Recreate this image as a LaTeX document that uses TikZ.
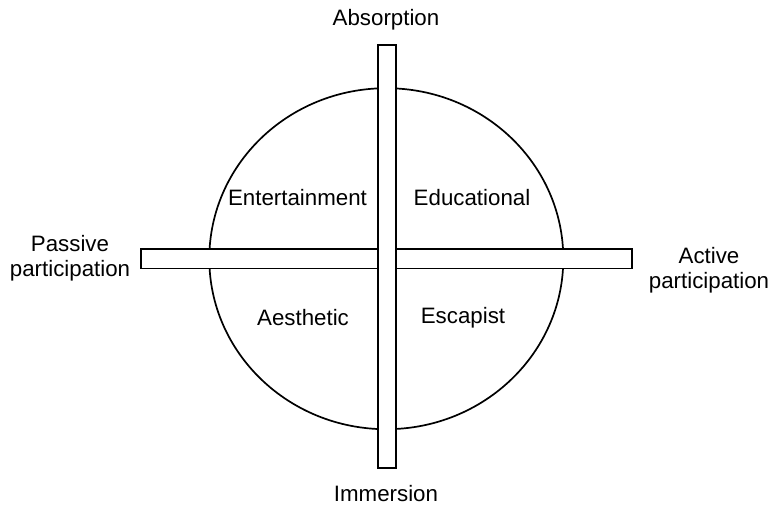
\documentclass[tikz,border=0pt]{standalone}
\usepackage{fontspec}
\setmainfont{Liberation Sans}
\begin{document}
\begin{tikzpicture}[x=1pt,y=-1pt,
  lbl/.style={font=\fontsize{22.3}{25.5}\selectfont, align=center, inner sep=0pt},
  bar/.style={draw=black, fill=white, line width=1.7pt, inner sep=0pt}]
\useasboundingbox (0,0) rectangle (771,507);
\draw[line width=1.7pt] (386.3,258.7) ellipse [x radius=177pt, y radius=170.5pt];
\node[bar, minimum width=491pt, minimum height=19.5pt] (hbar) at (386.5,258.7) {};
\node[bar, minimum width=18pt, minimum height=423pt] (vbar) at (387,256.5) {};
\node[lbl] (abs) at (386,20) {Absorption};
\node[lbl] (imm) at (386,494) {Immersion};
\node[lbl] (pas) at (70,258) {Passive\\participation};
\node[lbl] (act) at (709,270) {Active\\participation};
\node[lbl] (ent) at (297.5,198) {Entertainment};
\node[lbl] (edu) at (472,198) {Educational};
\node[lbl] (aes) at (303,318) {Aesthetic};
\node[lbl] (esc) at (463,318) {Escapist};
\end{tikzpicture}
\end{document}
